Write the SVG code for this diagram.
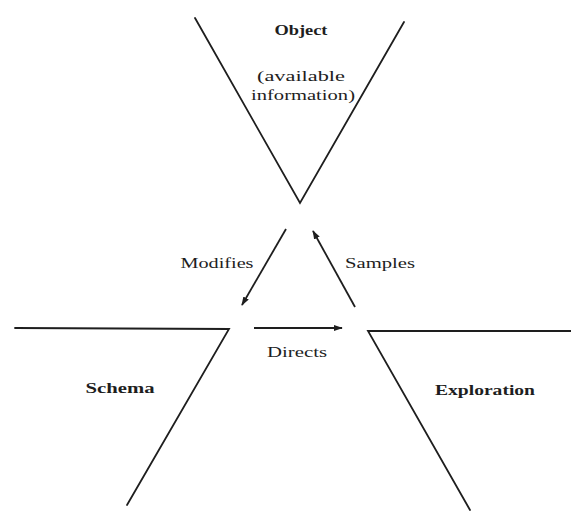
<svg xmlns="http://www.w3.org/2000/svg" width="571" height="513" viewBox="0 0 571 513">
  <style>
    .edge { stroke: #1e1e1e; stroke-width: 1.8; fill: none; stroke-linecap: round; stroke-linejoin: miter; }
    .arrow { stroke: #1e1e1e; stroke-width: 1.8; fill: none; }
    .lbl { font-family: "Liberation Serif", "DejaVu Serif", serif; font-size: 15px; fill: #1e1e1e; text-anchor: middle; }
    .title { font-weight: bold; }
  </style>
  <defs>
    <marker id="head" viewBox="0 0 10 10" refX="9" refY="5" markerWidth="5" markerHeight="5" orient="auto" markerUnits="strokeWidth">
      <path d="M0,1.5 L10,5 L0,8.5 Z" fill="#1e1e1e"/>
    </marker>
  </defs>
  <rect width="571" height="513" fill="#ffffff"/>

  <!-- Object: inverted wedge at top -->
  <g id="object">
    <polyline class="edge" points="195,18 300,203 404,22"/>
    <text class="lbl title" x="301" y="35" textLength="53" lengthAdjust="spacingAndGlyphs">Object</text>
    <text class="lbl" x="301" y="81" textLength="88" lengthAdjust="spacingAndGlyphs">(available</text>
    <text class="lbl" x="303" y="100" textLength="104" lengthAdjust="spacingAndGlyphs">information)</text>
  </g>

  <!-- Schema: wedge at lower left -->
  <g id="schema">
    <polyline class="edge" points="15,328 229,329 127,505"/>
    <text class="lbl title" x="120" y="393" textLength="69" lengthAdjust="spacingAndGlyphs">Schema</text>
  </g>

  <!-- Exploration: wedge at lower right -->
  <g id="exploration">
    <polyline class="edge" points="571,331 368,331 470,510"/>
    <text class="lbl title" x="485" y="395" textLength="100" lengthAdjust="spacingAndGlyphs">Exploration</text>
  </g>

  <!-- Cycle arrows between the three wedges -->
  <g id="connectors">
    <line class="arrow" x1="286" y1="229" x2="242" y2="305" marker-end="url(#head)"/>
    <line class="arrow" x1="355" y1="307" x2="313" y2="231" marker-end="url(#head)"/>
    <line class="arrow" x1="254" y1="328" x2="342" y2="328" marker-end="url(#head)"/>
    <text class="lbl" x="217" y="268" textLength="73" lengthAdjust="spacingAndGlyphs">Modifies</text>
    <text class="lbl" x="380" y="268" textLength="70" lengthAdjust="spacingAndGlyphs">Samples</text>
    <text class="lbl" x="297" y="357" textLength="60" lengthAdjust="spacingAndGlyphs">Directs</text>
  </g>
</svg>
